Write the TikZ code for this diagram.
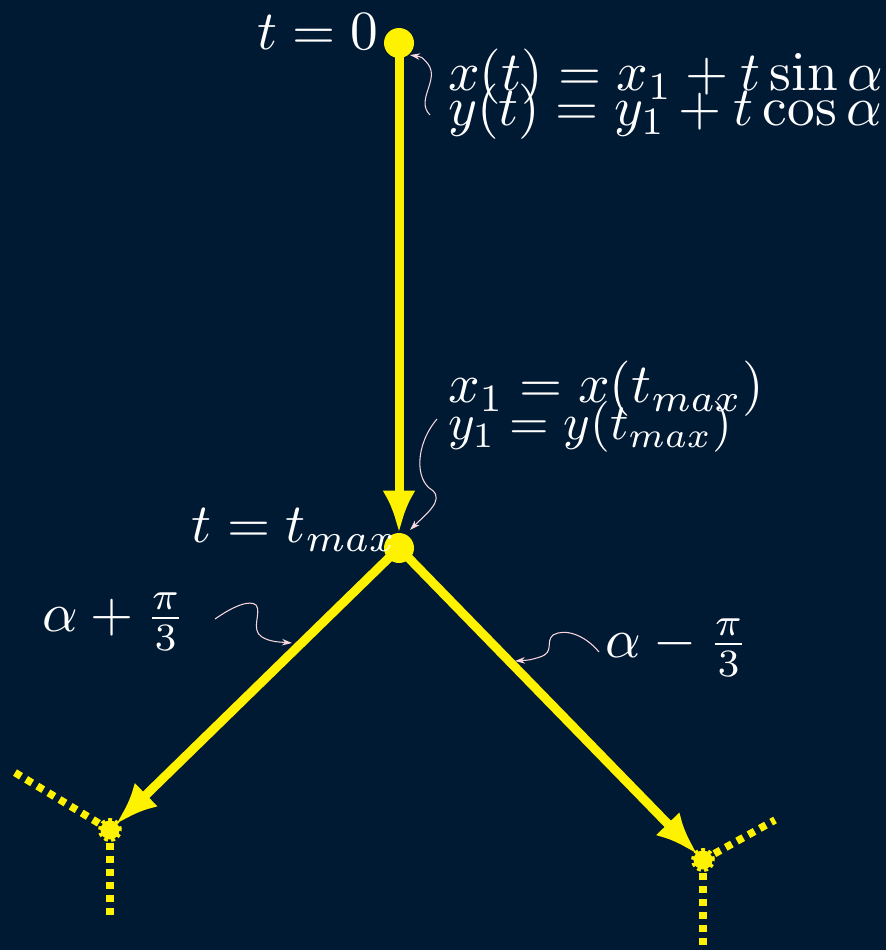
\documentclass[tikz,border=0pt]{standalone}
\usetikzlibrary{arrows.meta}
\definecolor{bgnavy}{RGB}{1,26,51}
\definecolor{notepink}{RGB}{250,215,222}
\begin{document}
\begin{tikzpicture}[x=0.02cm,y=-0.02cm, line join=round,
	branch/.style={yellow,line width=0.18cm,-{Latex[length=0.85cm,width=0.66cm]}},
	stub/.style={yellow,line width=0.15cm,dash pattern=on 0.14cm off 0.12cm},
	note/.style={notepink,line width=0.6pt,-{Stealth[length=0.2cm,width=0.13cm]}},
	lbl/.style={text=white,inner sep=0pt,scale=3.15}]
	\fill[bgnavy] (0,0) rectangle (886,950);
	\clip (0,0) rectangle (886,950);
	\path
	(399,43) coordinate (O)
	(399,548) coordinate (T)
	(110,830) coordinate (L)
	(703,860) coordinate (R)
	(14,772) coordinate (Lu)
	(110,920) coordinate (Ld)
	(775,820) coordinate (Ru)
	(703,960) coordinate (Rd)
	;
	% dotted continuations
	\foreach \a/\b in {L/Lu,L/Ld,R/Ru,R/Rd}
	\draw[stub] (\a)--(\b);
	\draw[branch,shorten >=0.3cm] (O)--(T);
	\draw[branch,shorten >=0.16cm] (T)--(L);
	\draw[branch,shorten >=0.16cm] (T)--(R);
	\foreach \p in {O,T}
	\fill[yellow] (\p) circle (0.3cm);
	\foreach \p in {L,R}
	\draw[yellow,fill=yellow,line width=0.1cm,dash pattern=on 0.07cm off 0.06cm] (\p) circle (0.19cm);
	% labels
	\node[lbl] (t0) at (318,32) {$t=0$};
	\node[lbl,anchor=west] (xt) at (447,77) {$x(t)=x_1+t\sin\alpha$};
	\node[lbl,anchor=west] (yt) at (447,112) {$y(t)=y_1+t\cos\alpha$};
	\node[lbl,anchor=west] (x1) at (447,389) {$x_1=x(t_{max})$};
	\node[lbl,anchor=west,scale=0.92] (y1) at (447,427) {$y_1=y(t_{max})$};
	\node[lbl,anchor=east] (tm) at (398,530) {$t=t_{max}$};
	\node[lbl] (ap) at (114,622) {$\alpha+\frac{\pi}{3}$};
	\node[lbl] (am) at (677,648) {$\alpha-\frac{\pi}{3}$};
	% pointers
	\path
	(430,115) coordinate (n1)
	(410,55) coordinate (m1)
	(437,419) coordinate (n2)
	(410,530) coordinate (m2)
	(215,619) coordinate (n3)
	(292,643) coordinate (m3)
	(599,652) coordinate (n4)
	(515,661) coordinate (m4)
	;
	\draw[note] (n1) .. controls (415,100) and (440,80) .. (428,64) .. controls (422,57) .. (m1);
	\draw[note] (n2) .. controls (415,445) and (415,480) .. (432,490) .. controls (445,500) and (425,515) .. (m2);
	\draw[note] (n3) .. controls (235,605) and (250,600) .. (256,605) .. controls (262,612) and (250,630) .. (262,637) .. controls (270,642) and (280,642) .. (m3);
	\draw[note] (n4) .. controls (585,635) and (565,628) .. (553,635) .. controls (545,642) and (555,652) .. (540,657) .. controls (530,660) .. (m4);
\end{tikzpicture}
\end{document}
